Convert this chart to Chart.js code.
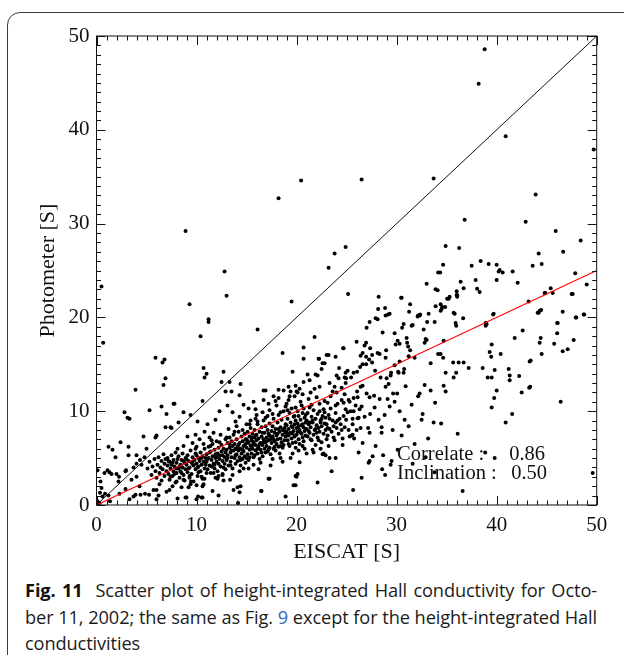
<!DOCTYPE html>
<html>
<head>
<meta charset="utf-8">
<title>Hall conductivity scatter</title>
<script src="https://cdn.jsdelivr.net/npm/chart.js@4.4.1/dist/chart.umd.min.js"></script>
<style>
  html, body { margin: 0; padding: 0; background: #fff; }
  body { width: 624px; height: 655px; position: relative; overflow: hidden; }
  #frame {
    position: absolute; left: 7px; top: 12px; width: 700px; height: 700px;
    border: 1px solid #3a3a3a; border-top-left-radius: 13px; box-sizing: border-box;
  }
  #plot { position: absolute; left: 0; top: 0; width: 624px; height: 575px; }
  #caption {
    position: absolute; left: 25px; top: 577px; width: 572px;
    font-family: "Open Sans", "Noto Sans", sans-serif; font-size: 18.2px; line-height: 26.5px;
    color: #1c1c1c; letter-spacing: -0.1px;
  }
  #caption .line { white-space: nowrap; }
  #caption .just { text-align: justify; text-align-last: justify; white-space: normal; }
  #caption b { font-weight: 700; color: #111; }
  #caption .ref { color: #2f6db5; }
</style>
</head>
<body>
<div id="frame"></div>
<div id="plot"><canvas id="hallChart" width="624" height="575"></canvas></div>
<div id="caption">
  <div class="line just"><b>Fig. 11</b>&nbsp; Scatter plot of height-integrated Hall conductivity for Octo-</div>
  <div class="line just">ber 11, 2002; the same as Fig. <span class="ref">9</span> except for the height-integrated Hall</div>
  <div class="line">conductivities</div>
</div>

<script>
// --- Axis setup ---
const axisMin = 0;
const axisMax = 50;
const tickLabels = [0, 10, 20, 30, 40, 50];

// --- Fit statistics (printed in the plot) ---
const statLabels = ['Correlate :', 'Inclination :'];
const statValues = [0.86, 0.50];

// --- EISCAT vs photometer samples, [EISCAT, Photometer] in S ---

// main band of points below the 1:1 line
const bandPoints = [
  [5.1,3.9],[5.3,4.6],[5.5,3.2],[5.6,4.1],[5.8,4.9],[5.9,3.6],[6.0,2.9],[6.1,4.3],[6.2,5.1],[6.3,3.4],
  [6.4,4.0],[6.5,2.6],[6.5,4.7],[6.6,3.8],[6.7,5.4],[6.8,3.1],[6.8,4.4],[6.9,4.9],[7.0,3.6],[6.3,2.2],
  [7.1,4.2],[7.1,5.0],[7.2,3.3],[7.3,4.6],[7.3,2.7],[7.4,3.9],[7.5,5.3],[7.5,4.3],[7.6,3.1],[7.7,4.8],
  [7.7,3.6],[7.8,4.1],[7.9,5.6],[7.9,2.4],[8.0,4.5],[8.0,3.4],[8.1,4.9],[8.2,3.9],[8.2,5.2],[8.3,2.9],
  [8.4,4.3],[8.4,3.6],[8.5,4.8],[8.6,5.5],[8.6,4.0],[8.7,3.2],[8.8,4.5],[8.8,2.6],[8.9,5.0],[8.9,3.8],
  [8.5,1.9],[7.6,2.0],[8.1,6.0],[7.3,1.6],[8.7,6.3],
  [9.0,4.3],[9.1,3.5],[9.1,5.3],[9.2,4.7],[9.3,2.9],[9.3,4.0],[9.4,5.8],[9.5,4.5],[9.5,3.3],[9.6,5.1],
  [9.7,4.2],[9.7,2.5],[9.8,4.8],[9.9,3.8],[9.9,5.5],[10.0,4.4],[10.0,6.2],[10.1,3.1],[10.2,5.0],[10.2,4.1],
  [10.3,4.7],[10.4,3.6],[10.4,5.6],[10.5,4.3],[10.6,5.2],[10.6,2.8],[10.7,4.6],[10.8,3.9],[10.8,6.0],[10.9,5.0],
  [10.9,4.3],[9.6,6.6],[10.3,7.0],[9.2,1.9],[10.7,2.2],
  [11.0,5.4],[11.0,4.6],[11.1,3.8],[11.2,6.2],[11.2,5.0],[11.3,4.2],[11.4,5.7],[11.4,3.4],[11.5,4.8],[11.6,6.5],
  [11.6,5.2],[11.7,4.4],[11.8,5.9],[11.8,3.9],[11.9,5.0],[12.0,6.8],[12.0,4.6],[12.1,5.5],[12.1,3.6],[12.2,6.1],
  [12.3,4.9],[12.3,5.3],[12.4,4.1],[12.5,6.4],[12.5,5.7],[12.6,4.7],[12.6,3.3],[12.7,6.0],[12.8,5.1],[12.8,4.4],
  [12.9,7.0],[12.9,5.6],[11.3,7.2],[12.4,7.5],[11.9,2.9],[12.7,2.6],[11.5,6.9],[12.2,3.1],[11.7,7.7],[12.9,3.8],
  [13.0,5.9],[13.0,4.8],[13.1,6.6],[13.1,5.3],[13.2,4.2],[13.3,6.1],[13.3,7.2],[13.4,5.6],[13.4,4.6],[13.5,6.8],
  [13.5,5.1],[13.6,6.3],[13.6,3.9],[13.7,5.8],[13.7,7.5],[13.8,5.0],[13.8,6.5],[13.9,4.4],[13.9,6.0],[14.0,7.0],
  [14.0,5.4],[14.1,6.2],[14.1,4.7],[14.2,5.8],[14.2,7.8],[14.3,6.6],[14.3,5.1],[14.4,4.2],[14.4,6.0],[14.5,7.3],
  [14.5,5.5],[14.6,6.8],[14.6,4.9],[14.7,6.3],[14.7,5.7],[14.8,7.6],[14.8,5.2],[14.9,6.5],[14.9,4.5],[13.2,8.1],
  [14.0,8.4],[13.6,3.2],[14.3,3.6],[13.9,8.9],[14.7,3.9],
  [15.0,6.1],[15.0,7.0],[15.1,5.4],[15.1,7.8],[15.2,6.6],[15.2,4.8],[15.3,5.9],[15.3,7.3],[15.4,6.3],[15.4,8.2],
  [15.5,5.5],[15.5,6.9],[15.6,7.6],[15.6,6.0],[15.7,5.1],[15.7,6.7],[15.8,8.0],[15.8,7.2],[15.9,5.8],[15.9,6.4],
  [16.0,7.5],[16.0,6.9],[16.1,5.5],[16.1,8.6],[16.2,6.2],[16.2,7.1],[16.3,4.9],[16.3,7.8],[16.4,6.6],[16.4,5.9],
  [16.5,7.3],[16.5,8.3],[16.6,6.4],[16.6,5.2],[16.7,7.0],[16.7,9.0],[16.8,6.0],[16.8,7.7],[16.9,6.7],[16.9,5.6],
  [15.4,9.0],[16.0,9.6],[15.7,4.3],[16.4,4.5],[15.2,3.9],[16.9,8.4],[15.9,10.2],[16.6,9.9],[15.0,8.6],[16.2,3.8],
  [17.0,7.2],[17.0,6.3],[17.1,8.0],[17.1,5.7],[17.2,6.9],[17.2,7.6],[17.3,6.1],[17.3,8.7],[17.4,7.0],[17.4,5.4],
  [17.5,7.9],[17.5,6.6],[17.6,8.4],[17.6,7.3],[17.7,6.0],[17.7,9.2],[17.8,7.7],[17.8,6.8],[17.9,5.8],[17.9,8.1],
  [18.0,7.4],[18.0,6.5],[18.1,8.8],[18.1,7.0],[18.2,6.2],[18.2,9.6],[18.3,7.8],[18.3,5.5],[18.4,8.3],[18.4,7.1],
  [18.5,6.7],[18.5,9.1],[18.6,7.5],[18.6,8.0],[18.7,6.4],[18.7,10.0],[18.8,7.9],[18.8,6.9],[18.9,8.6],[18.9,7.3],
  [17.3,10.1],[18.0,10.6],[17.6,4.9],[18.4,5.0],[17.1,9.5],[18.9,10.5],[17.9,11.1],[18.6,4.6],[17.4,4.2],[18.2,11.4],
  [19.0,7.8],[19.0,8.5],[19.1,6.9],[19.1,9.2],[19.2,7.4],[19.2,8.1],[19.3,6.3],[19.3,9.8],[19.4,7.7],[19.4,8.8],
  [19.5,7.1],[19.5,10.3],[19.6,8.3],[19.6,6.6],[19.7,7.9],[19.7,9.4],[19.8,8.6],[19.8,7.3],[19.9,6.1],[19.9,9.0],
  [20.0,8.2],[20.0,7.5],[20.1,10.0],[20.1,8.7],[20.2,7.0],[20.2,9.5],[20.3,8.0],[20.3,6.5],[20.4,9.1],[20.4,7.7],
  [20.5,8.5],[20.5,10.6],[20.6,7.2],[20.6,9.8],[20.7,8.3],[20.7,6.8],[20.8,9.3],[20.8,7.9],[20.9,8.8],[20.9,7.4],
  [19.2,11.2],[19.8,11.6],[20.4,11.0],[19.6,5.5],[20.2,5.8],[20.8,6.0],[19.0,10.8],[20.6,11.8],[19.4,5.0],[20.0,12.1],
  [21.0,8.1],[21.0,9.0],[21.1,7.3],[21.1,9.8],[21.2,8.6],[21.3,7.7],[21.3,10.4],[21.4,8.3],[21.5,9.4],[21.5,6.9],
  [21.6,8.8],[21.7,7.5],[21.7,10.1],[21.8,8.0],[21.9,9.2],[21.9,6.4],[22.0,8.5],[22.1,7.2],[22.1,9.7],[22.2,8.2],
  [22.3,10.8],[22.3,7.8],[22.4,9.0],[22.5,8.4],[22.5,6.7],[22.6,9.5],[22.7,7.6],[22.7,10.2],[22.8,8.7],[22.9,8.0],
  [21.2,11.3],[22.0,11.5],[21.6,5.9],[22.4,6.0],[22.8,11.1],[21.4,12.0],[22.6,5.4],[21.8,12.4],[21.0,5.5],[22.9,9.3],
  [23.0,8.6],[23.1,7.4],[23.2,9.6],[23.3,8.1],[23.4,10.3],[23.5,7.8],[23.6,9.0],[23.7,8.4],[23.8,6.9],[23.9,9.8],
  [24.0,8.2],[24.1,10.8],[24.2,7.6],[24.3,9.2],[24.4,8.6],[24.5,11.2],[24.6,7.1],[24.7,9.5],[24.8,8.3],[24.9,10.2],
  [23.4,11.6],[24.0,12.0],[23.2,6.3],[24.6,6.4],[23.8,12.6]
];

// extra samples filling the core of the band
const bandCorePoints = [
  [7.2,4.7],[7.6,4.5],[8.3,4.1],[8.7,4.7],[9.2,3.9],[9.6,4.6],[10.1,4.0],[10.5,5.0],[11.1,4.9],[11.5,4.1],
  [11.9,5.4],[12.2,4.4],[12.6,5.3],[13.1,5.0],[13.5,5.8],[13.9,5.3],[14.2,6.4],[14.6,5.9],[15.1,6.8],[15.3,5.1],
  [15.6,6.4],[15.9,7.4],[16.3,6.5],[16.6,7.7],[17.0,6.8],[17.3,7.4],[17.7,7.0],[18.1,7.6],[18.4,6.3],[18.8,8.2],
  [19.1,7.6],[19.5,8.4],[19.8,9.5],[20.2,8.4],[20.5,7.6],[20.9,9.6],[21.2,7.9],[21.6,9.0],[22.0,7.7],[22.4,8.8],
  [22.8,9.9],[23.3,9.2],[23.7,7.2],[24.1,9.0],[24.5,8.0],
  [8.0,3.9],[9.0,4.9],[10.0,5.3],[11.3,5.6],[12.0,5.1],[13.3,6.5],[14.0,6.0],[14.9,7.0],[15.5,7.2],[16.1,6.0],
  [16.7,6.7],[17.5,7.2],[18.2,8.1],[18.9,7.7],[19.6,7.6],[20.1,7.8],[20.6,8.6],[21.3,8.8],[21.9,8.1],[22.5,9.2],
  [23.1,8.2],[23.9,8.8],
  [7.8,3.3],[8.5,3.4],[9.3,3.1],[10.2,3.5],[11.0,3.4],[11.8,4.3],[12.7,4.0],[13.4,4.2],[14.4,4.8],[15.0,5.0],
  [15.8,5.3],[16.5,5.6],[17.2,5.9],[17.8,6.2],[18.6,6.1],[19.2,6.5],[19.9,6.7],[20.6,6.3],[21.4,7.0],[22.2,6.9],
  [23.0,7.0],
  [9.9,6.0],[10.7,6.5],[11.4,6.3],[12.3,6.7],[13.0,7.2],[13.8,7.8],[14.6,8.0],[15.3,8.6],[16.1,8.9],[16.9,9.3],
  [17.6,9.7],[18.4,9.9],[19.1,10.1],[19.9,10.4],[20.7,10.3],[21.5,10.7],[22.3,10.0],[23.1,10.9],[23.9,10.6],[24.7,10.9]
];

// small values near the origin and under the band
const lowPoints = [
  [0.1,3.7],[0.8,3.4],[1.1,3.7],[1.5,3.3],[2.0,3.3],[0.4,2.5],[0.35,1.3],[0.5,1.8],[0.85,1.2],[1.2,1.0],
  [0.1,0.4],[1.35,0.4],[2.25,3.0],[2.95,3.7],[3.5,2.7],[3.9,1.1],[4.4,1.1],[4.85,1.2],[5.25,1.1],[6.0,0.6],
  [6.2,1.0],[5.7,1.6],[3.3,0.6],[3.7,0.9],[8.9,0.8],[10.15,0.9],[10.5,0.8],[14.1,1.9],[14.3,1.35],[14.15,0.2],
  [16.45,1.5],[17.3,2.8],[18.9,0.9],[19.7,2.1],[20.0,3.0],[10.5,3.0],[10.8,2.8],[11.7,3.4],[12.1,2.8],[12.6,3.2],
  [13.35,2.7],[9.6,4.4],[9.45,2.5],[2.9,3.6],[2.2,2.5],[3.7,4.0],[4.5,4.3],[4.0,3.0],[4.3,2.0],[2.3,1.2],
  [2.9,1.7],[1.3,3.5],[4.0,4.4],[4.35,4.8],[4.8,5.1],[5.0,6.0],[5.9,7.2],[0.6,0.9],[0.3,0.2],
  [20.3,4.55],[20.1,3.3],[19.9,3.1],[19.9,2.1],[22.1,2.4],[23.5,3.6],[22.7,5.5],[22.9,5.3],[23.3,5.0],[23.9,5.0],
  [21.7,5.6],[17.2,2.8],[16.5,1.5],[14.4,2.0],[13.7,1.6],[11.6,1.5],[12.2,1.0],[10.6,0.8],[10.0,0.6],[8.1,0.7],
  [9.0,0.8],[6.0,1.6],[7.0,1.4],[7.4,3.0],[8.0,2.5],[8.7,2.7],[9.4,2.2],[10.0,2.1],[10.6,2.0]
];

// points between the band and the 1:1 line, EISCAT below 25 S
const upperPoints = [
  [0.5,23.3],[8.9,29.2],[12.8,24.9],[18.2,32.7],[20.45,34.6],[23.2,25.3],[23.8,26.8],[24.9,27.5],
  [9.3,21.4],[19.5,21.7],[13.0,22.3],[11.2,19.8],[11.2,19.5],[0.67,17.3],[10.4,18.0],[16.1,18.7],[21.8,17.9],
  [5.9,15.7],[6.8,15.5],[6.6,15.2],[10.7,14.6],[10.8,13.6],[11.0,14.0],[6.9,13.5],[6.7,12.8],[3.9,12.3],
  [12.7,14.2],[12.5,13.1],[13.3,13.1],[12.9,12.1],[13.5,12.1],[14.4,12.9],[14.3,11.7],[10.6,11.1],
  [18.6,16.2],[20.7,16.8],[20.7,15.6],[19.6,14.2],[22.2,15.6],[22.8,15.1],[23.0,16.0],[23.2,16.0],[24.7,16.7],
  [22.5,14.5],[21.1,13.9],[21.9,13.9],[22.1,13.8],[24.0,13.8],[24.2,13.5],[24.8,13.6],[24.9,13.0],
  [16.7,12.2],[16.9,12.2],[18.2,12.3],[19.4,12.1],[19.3,11.6],[20.1,12.0],[19.9,12.7],
  [5.3,10.1],[2.8,9.9],[3.1,9.3],[3.3,9.2],[6.5,10.5],[7.8,10.8],[7.0,9.7],[6.9,8.3],[7.4,8.3],[6.0,7.4],
  [4.7,7.3],[2.4,6.7],[1.2,6.2],[1.6,5.9],[3.2,6.2],[1.9,5.1],[3.2,5.3],[4.0,5.3],[7.7,10.8],[7.5,8.2],
  [14.7,10.7],[15.2,10.3],[15.7,11.0],[16.7,11.2],[17.2,10.8],[17.7,11.6],[18.7,12.2],[19.2,12.6],[20.3,12.4],
  [20.7,13.1],[21.3,13.3],[22.3,12.6],[23.3,13.0],[23.6,12.1],[24.5,12.5],[24.8,11.8],[15.9,9.2],[14.3,9.4],
  [13.6,9.9],[13.1,10.6],[12.3,10.0],[11.9,9.1],[11.1,8.6],[10.1,8.9],[9.4,9.6],[8.7,9.9],[8.2,8.8],[9.9,7.5],
  [10.8,7.8],[9.1,7.3],[24.65,16.7],[22.25,15.6],[24.25,14.6],[24.9,14.1],[22.6,15.1],[23.9,15.8]
];

// EISCAT above 25 S
const farPoints = [
  [26.5,34.7],[33.7,34.8],[38.2,44.9],[38.8,48.6],[40.9,39.3],[49.7,37.9],[43.9,33.1],[36.8,30.4],[42.9,30.2],
  [45.9,29.2],[48.4,28.2],[34.9,27.6],[36.25,27.4],[46.65,27.0],[44.2,26.8],[34.65,25.6],[37.5,25.5],[38.4,26.0],
  [39.2,25.7],[40.0,25.6],[43.6,25.5],[44.5,25.7],[34.15,24.8],[34.35,24.8],[40.2,24.9],[40.3,25.05],[40.6,24.8],
  [41.6,24.9],[47.85,24.7],[33.0,23.6],[36.4,23.8],[37.9,24.0],[40.0,24.0],[42.1,23.7],[49.0,23.5],[33.9,23.0],
  [36.7,23.1],[38.05,23.06],[45.4,23.1],[38.3,22.7],[45.6,22.6],[44.8,22.6],[47.5,22.5],[36.05,22.35],[36.05,22.2],
  [35.05,22.0],[35.2,22.0],[34.1,22.9],[30.45,22.1],[28.2,22.2],[25.15,22.5],
  [30.5,22.1],[36.0,22.8],[35.3,22.2],[36.0,22.4],[47.6,22.5],[44.85,22.6],[31.35,21.4],[28.15,20.9],[28.85,21.0],
  [29.15,20.3],[29.3,20.4],[28.9,20.2],[28.1,19.8],[27.3,19.5],[27.9,19.9],[27.0,18.9],[28.6,18.4],[29.8,18.3],
  [30.7,19.3],[30.55,18.9],[31.5,19.1],[31.6,19.2],[32.1,20.1],[32.35,20.3],[33.2,20.4],[33.05,19.5],[33.8,19.5],
  [34.4,20.7],[34.5,20.9],[34.85,21.1],[34.55,21.1],[35.8,20.4],[35.7,20.5],[36.65,19.9],[35.9,19.4],[35.95,19.1],
  [32.7,18.7],[32.9,17.7],[38.9,19.1],[39.0,19.3],[39.65,20.3],[43.2,21.7],[44.1,20.5],[44.3,20.7],[46.6,20.6],
  [47.95,20.0],[48.7,20.3],[46.05,19.4],[46.05,18.3],[42.6,18.6],[41.8,17.8],[44.4,17.8],[44.3,17.3],[44.5,16.1],
  [47.7,17.6],[47.1,16.6],[46.6,16.4],[45.75,17.2],[39.5,17.1],[39.3,16.3],[39.45,15.8],[40.4,16.1],[43.4,15.4],
  [43.3,15.3],[38.6,14.6],[39.1,13.6],[39.5,13.6],[39.8,14.4],[41.2,14.5],[41.3,13.8],[41.3,13.3],[42.25,13.75],
  [42.5,12.0],[43.25,12.5],[39.75,11.4],[40.0,12.2],[39.5,10.4],[46.4,11.0],[41.55,9.7],[40.9,8.8],[49.6,3.4],
  [36.6,1.5],[25.65,1.6],[26.5,2.9],[28.85,3.2],[28.55,3.8],[28.65,5.3],[27.6,5.2],[27.3,4.7],[27.2,4.5],
  [29.4,4.3],[29.5,4.7],[31.6,4.4],[38.85,5.6],[39.8,5.0],[31.8,6.5],[33.15,7.1],[36.1,7.6],[30.5,7.4],
  [29.6,8.0],[28.5,8.3],[28.5,7.7],[28.2,9.1],[27.15,8.2],[27.3,7.7],[25.6,7.5],[25.75,7.1],[25.3,7.3],[25.5,7.4],
  [26.6,6.6],[24.95,9.1],[25.6,9.2],[26.1,9.25],[26.2,9.3],[25.4,10.0],[25.7,10.0],[26.5,10.5],[27.35,9.7],
  [32.6,9.7],[32.5,9.1],[33.7,8.8],[34.45,8.7],[31.5,10.7],[30.3,10.0],[32.15,11.6],[32.3,11.9],[32.8,12.8],
  [33.4,12.2],[34.7,12.7],[34.9,12.1],[33.85,10.9],[30.9,12.65],[30.05,11.9],[29.65,11.9],[29.8,11.0],[29.1,11.3],
  [28.3,11.3],[27.75,11.65],[27.3,11.5],[27.0,11.9],[26.1,11.5],[25.7,11.4],[25.2,11.2],[26.05,12.1],[26.4,12.6],
  [26.6,12.7],[28.9,12.6],[29.2,12.9],[29.4,13.8],[28.4,13.6],[29.0,13.5],[29.45,14.1],[30.2,14.1],[30.7,14.1],
  [30.75,14.5],[29.8,14.9],[30.3,15.3],[30.15,14.2],[28.9,15.7],[28.3,16.1],[27.85,14.3],[28.1,16.2],[28.95,16.5],
  [27.55,15.2],[26.95,15.0],[26.6,15.0],[26.05,14.2],[25.7,14.1],[26.35,14.7],[25.1,14.3],[25.45,13.6],[24.95,13.5],
  [26.0,17.4],[26.4,15.9],[26.6,16.2],[26.95,15.8],[27.25,15.5],[26.8,17.0],[27.35,16.7],[27.55,16.0],[29.9,17.1],
  [30.1,17.5],[30.3,17.2],[31.0,17.8],[31.05,17.3],[31.15,16.9],[31.35,16.5],[31.2,15.85],[31.8,15.7],[32.8,17.3],
  [33.0,17.6],[33.4,15.1],[34.15,16.1],[34.4,16.1],[34.65,15.7],[34.9,14.1],[35.65,15.2],[35.7,13.6],[35.95,14.1],
  [36.2,15.2],[36.7,15.2],[37.2,14.6],[34.7,17.5],[32.15,20.2],[32.3,20.2],[31.25,20.6],[33.9,21.2],[34.4,21.4],
  [26.95,17.3],[44.45,20.8],[44.2,20.5],[46.1,19.4],[38.9,19.4],[39.7,20.4],[43.35,12.6],[48.75,20.3],[47.9,20.0],
  [25.3,11.0],[25.9,10.6],[26.3,10.2],[25.1,9.9],[25.6,8.6],[26.4,8.2],[26.8,9.4],[25.2,8.0],[26.0,8.0],
  [27.8,10.4],[28.8,9.6],[29.3,10.5],[30.8,9.1],[31.2,8.4],[27.9,6.3],[26.2,5.6],[30.1,5.9],[32.9,5.1],[33.8,3.5]
];

// --- Build chart data from the arrays ---
const toXY = pairs => pairs.map(([x, y]) => ({ x, y }));
const allPoints = [...bandPoints, ...bandCorePoints, ...lowPoints, ...upperPoints, ...farPoints];

const slope = statValues[1];
const oneToOneLine = [[axisMin, axisMin], [axisMax, axisMax]];
const fitLine = [[axisMin, axisMin * slope], [axisMax, axisMax * slope]];

const serif = '"Liberation Serif", "DejaVu Serif", serif';

// Inward tick marks on all four sides, the plot box and the stat text
const frameAndTicks = {
  id: 'frameAndTicks',
  afterDatasetsDraw(chart) {
    const { ctx, chartArea: a, scales: { x, y } } = chart;
    ctx.save();
    ctx.strokeStyle = '#111';
    ctx.lineWidth = 1;
    ctx.strokeRect(a.left, a.top, a.right - a.left, a.bottom - a.top);
    ctx.beginPath();
    for (let v = axisMin; v <= axisMax; v++) {
      const len = v % 10 === 0 ? 9 : 4.5;
      const px = Math.round(x.getPixelForValue(v)) + 0.5;
      ctx.moveTo(px, a.bottom); ctx.lineTo(px, a.bottom - len);
      ctx.moveTo(px, a.top); ctx.lineTo(px, a.top + len);
      const py = Math.round(y.getPixelForValue(v)) + 0.5;
      ctx.moveTo(a.left, py); ctx.lineTo(a.left + len, py);
      ctx.moveTo(a.right, py); ctx.lineTo(a.right - len, py);
    }
    ctx.stroke();

    // statistics text
    ctx.fillStyle = '#111';
    ctx.font = '20.5px ' + serif;
    ctx.textBaseline = 'alphabetic';
    const rows = [4.8, 2.75];
    statLabels.forEach((label, i) => {
      const py = y.getPixelForValue(rows[i]);
      ctx.fillText(label, x.getPixelForValue(30.05), py);
      ctx.fillText(statValues[i].toFixed(2), x.getPixelForValue(i === 0 ? 41.25 : 41.45), py);
    });
    ctx.restore();
  }
};

const ctx = document.getElementById('hallChart').getContext('2d');
new Chart(ctx, {
  type: 'scatter',
  data: {
    datasets: [
      {
        label: 'fit',
        data: toXY(fitLine),
        showLine: true,
        borderColor: '#ff0000',
        borderWidth: 1.1,
        pointRadius: 0,
        order: 0
      },
      {
        label: '1:1',
        data: toXY(oneToOneLine),
        showLine: true,
        borderColor: '#111',
        borderWidth: 1,
        pointRadius: 0,
        order: 1
      },
      {
        label: 'samples',
        data: toXY(allPoints),
        pointRadius: 2,
        pointBackgroundColor: '#000',
        pointBorderWidth: 0,
        order: 2
      }
    ]
  },
  options: {
    responsive: false,
    animation: false,
    devicePixelRatio: 1,
    layout: { padding: { left: 0, top: 36, right: 27.3, bottom: 0 } },
    plugins: { legend: { display: false }, tooltip: { enabled: false } },
    scales: {
      x: {
        type: 'linear',
        min: axisMin,
        max: axisMax,
        grid: { display: false, drawTicks: false },
        border: { display: false },
        afterBuildTicks: s => { s.ticks = tickLabels.map(v => ({ value: v })); },
        afterFit: s => { s.height = 70; },
        ticks: { color: '#111', padding: 8, maxRotation: 0, font: { family: serif, size: 21 } },
        title: {
          display: true, text: 'EISCAT [S]', color: '#111',
          font: { family: serif, size: 22 }, padding: { top: 0, bottom: 10 }
        }
      },
      y: {
        type: 'linear',
        min: axisMin,
        max: axisMax,
        grid: { display: false, drawTicks: false },
        border: { display: false },
        afterBuildTicks: s => { s.ticks = tickLabels.map(v => ({ value: v })); },
        afterFit: s => { s.width = 96.5; },
        ticks: { color: '#111', padding: 7, font: { family: serif, size: 21 } },
        title: {
          display: true, text: 'Photometer [S]', color: '#111',
          font: { family: serif, size: 22 }, padding: { top: 35, bottom: 0 }
        }
      }
    }
  },
  plugins: [frameAndTicks]
});
</script>
</body>
</html>
